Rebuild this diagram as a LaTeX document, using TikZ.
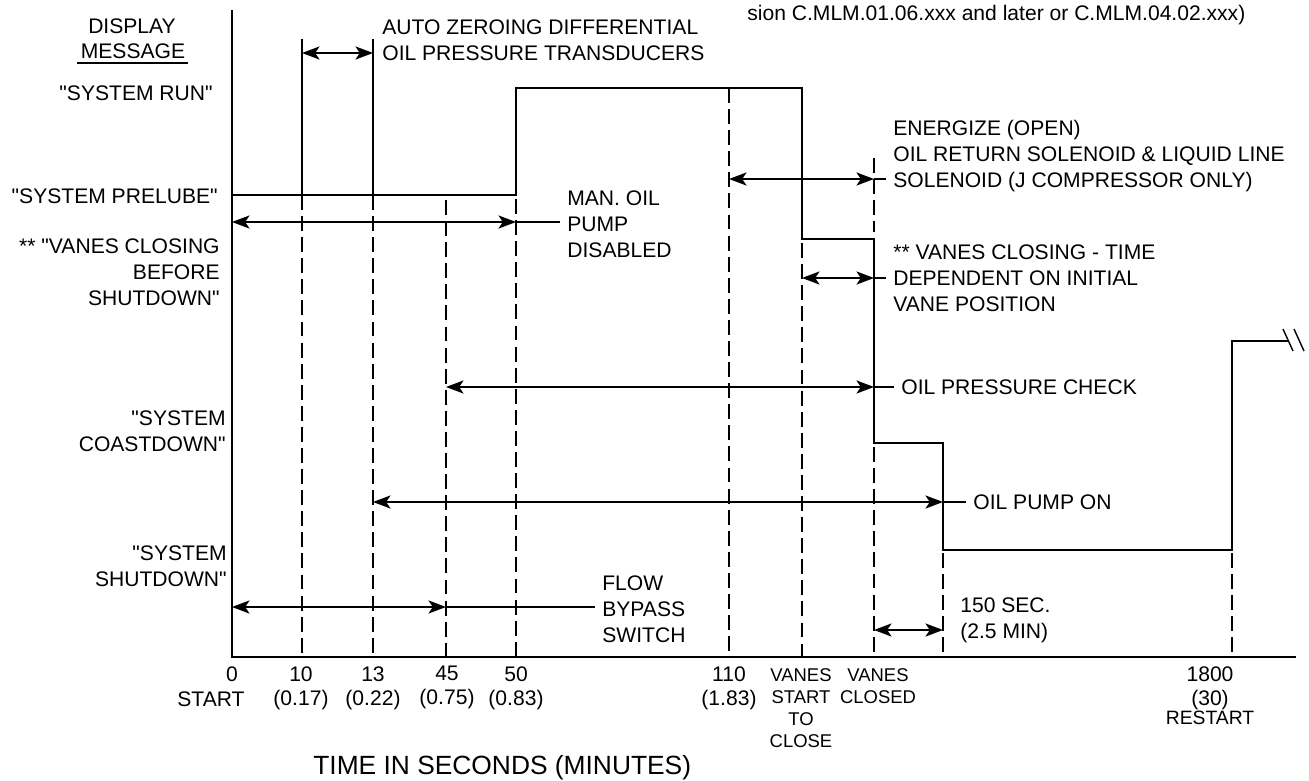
\documentclass[tikz,border=0pt]{standalone}
\usepackage{fontspec}
\newfontfamily\labelfont{Liberation Sans}
\usetikzlibrary{arrows.meta}

\begin{document}
\begin{tikzpicture}[x=0.02cm, y=-0.02cm,
    every node/.style={font=\labelfont\fontsize{12}{14.8}\selectfont, inner sep=0pt},
    axis/.style={line width=1.5pt, line join=miter},
    level/.style={line width=1.2pt, line join=miter},
    marker/.style={line width=0.8pt, dash pattern=on 8.5pt off 3.5pt},
    solidmark/.style={line width=0.8pt},
    span/.style={line width=0.75pt, {Stealth[length=10pt,width=7.5pt,inset=2.5pt]}-{Stealth[length=10pt,width=7.5pt,inset=2.5pt]}},
    lead/.style={line width=0.75pt, shorten >=4pt},
    tick/.style={font=\labelfont\fontsize{12}{13.7}\selectfont, align=center, anchor=north},
    smalltick/.style={font=\labelfont\fontsize{10.5}{12.6}\selectfont, align=center, anchor=north},
    msg/.style={align=right, anchor=north east},
    note/.style={align=left, anchor=north west}]

    \useasboundingbox (0,0) rectangle (1309,781);

    % Time markers on the axis
    \coordinate (t0) at (232,657);
    \coordinate (t10) at (302,657);
    \coordinate (t13) at (373,657);
    \coordinate (t45) at (446,657);
    \coordinate (t50) at (516,657);
    \coordinate (t110) at (729,657);
    \coordinate (tvs) at (802,657);
    \coordinate (tvc) at (874,657);
    \coordinate (t150) at (943,657);
    \coordinate (t1800) at (1232,657);

    % Display levels
    \coordinate (lrun) at (0,88);
    \coordinate (lprelube) at (0,195);
    \coordinate (lvanes) at (0,239);
    \coordinate (lcoast) at (0,443);
    \coordinate (lshut) at (0,550);
    \coordinate (lrestart) at (0,341);

    % Rows of the span arrows
    \coordinate (ytop) at (0,39);
    \coordinate (yauto) at (0,53);
    \coordinate (yenergize) at (0,179);
    \coordinate (yman) at (0,222);
    \coordinate (yvanes) at (0,278);
    \coordinate (yopc) at (0,387);
    \coordinate (yopo) at (0,502);
    \coordinate (ybypass) at (0,607);
    \coordinate (ysec) at (0,630);

    % Axes
    \draw[axis] (232,10) -- (t0) -- (1296,657);

    % Display message labels
    \node (disp) at (132,26) {DISPLAY};
    \node (mesg) at (133,51) {MESSAGE};
    \draw[solidmark] (77,63) -- (188,63);
    \node[msg] (run) at (213,85) {"SYSTEM RUN"};
    \node[msg] (prelube) at (218,188) {"SYSTEM PRELUBE"};
    \node[msg] (vclosing) at (220,238) {** "VANES CLOSING\\BEFORE\hspace*{0.33em}\\SHUTDOWN"};
    \node[msg] (coast) at (226,410) {"SYSTEM\\COASTDOWN"};
    \node[msg] (shut) at (227,545) {"SYSTEM\\SHUTDOWN"};

    % Marker lines
    \draw[solidmark] (t10 |- ytop) -- (t10 |- lprelube);
    \draw[solidmark] (t13 |- ytop) -- (t13 |- lprelube);
    \draw[marker] (t10 |- lprelube) -- (t10);
    \draw[marker] (t13 |- lprelube) -- (t13);
    \draw[marker] (446,200) -- (t45);
    \draw[marker] (516,199) -- (t50);
    \draw[marker] (t110 |- lrun) -- (t110);
    \draw[marker] (802,243) -- (tvs);
    \draw[marker] (874,158) -- (874,232);
    \draw[marker] (874,447) -- (tvc);
    \draw[marker] (943,553) -- (t150);
    \draw[marker] (1232,553) -- (t1800);

    % Display message sequence
    \draw[level] (t0 |- lprelube) -- (t50 |- lprelube) -- (t50 |- lrun) -- (tvs |- lrun)
        -- (tvs |- lvanes) -- (tvc |- lvanes) -- (tvc |- lcoast) -- (t150 |- lcoast)
        -- (t150 |- lshut) -- (t1800 |- lshut) -- (t1800 |- lrestart) -- (1288,341);
    \draw[solidmark] (1283,329) -- (1293,351) (1294,329) -- (1304,351);

    % Notes
    \node[note] (auto) at (382,19) {AUTO ZEROING DIFFERENTIAL\\OIL PRESSURE TRANSDUCERS};
    \node[anchor=west] (version) at (747,15) {sion C.MLM.01.06.xxx and later or C.MLM.04.02.xxx)};
    \node[note] (energize) at (893,120) {ENERGIZE (OPEN)\\OIL RETURN SOLENOID \& LIQUID LINE\\SOLENOID (J COMPRESSOR ONLY)};
    \node[note] (man) at (567,190) {MAN. OIL\\PUMP\\DISABLED};
    \node[note] (vnote) at (893,244) {** VANES CLOSING - TIME\\DEPENDENT ON INITIAL\\VANE POSITION};
    \node[anchor=west] (opc) at (901,387) {OIL PRESSURE CHECK};
    \node[anchor=west] (opo) at (973,502) {OIL PUMP ON};
    \node[note] (flow) at (602,575) {FLOW\\BYPASS\\SWITCH};
    \node[note] (sec) at (960,597) {150 SEC.\\(2.5 MIN)};

    % Spans
    \draw[span] (t10 |- yauto) -- (t13 |- yauto);
    \draw[span] (t110 |- yenergize) -- (tvc |- yenergize);
    \draw[lead] (tvc |- yenergize) -- (energize.west |- yenergize);
    \draw[span] (t0 |- yman) -- (t50 |- yman);
    \draw[lead] (t50 |- yman) -- (man.west |- yman);
    \draw[span] (tvs |- yvanes) -- (tvc |- yvanes);
    \draw[lead] (tvc |- yvanes) -- (vnote.west |- yvanes);
    \draw[span] (t45 |- yopc) -- (tvc |- yopc);
    \draw[lead] (tvc |- yopc) -- (opc.west);
    \draw[span] (t13 |- yopo) -- (t150 |- yopo);
    \draw[lead] (t150 |- yopo) -- (opo.west);
    \draw[span] (t0 |- ybypass) -- (t45 |- ybypass);
    \draw[lead] (t45 |- ybypass) -- (flow.west |- ybypass);
    \draw[span] (tvc |- ysec) -- (t150 |- ysec);

    % Time axis labels
    \node[tick] (l0) at (232,666) {0};
    \node (lstart) at (211,699) {START};
    \node[tick] (l10) at (301,666) {10\\(0.17)};
    \node[tick] (l13) at (373,666) {13\\(0.22)};
    \node[tick] (l45) at (447,666) {45\\(0.75)};
    \node[tick] (l50) at (516,666) {50\\(0.83)};
    \node[tick] (l110) at (729,666) {110\\(1.83)};
    \node[smalltick] (lvs) at (801,668) {VANES\\START\\TO\\CLOSE};
    \node[smalltick] (lvc) at (878,668) {VANES\\CLOSED};
    \node[tick] (l1800) at (1210,666) {1800\\(30)};
    \node[font=\labelfont\fontsize{11}{12.8}\selectfont] (lrestart) at (1210,718) {RESTART};
    \node[anchor=west, font=\labelfont\fontsize{15}{18}\selectfont] (title) at (313,768) {TIME IN SECONDS (MINUTES)};
\end{tikzpicture}
\end{document}
